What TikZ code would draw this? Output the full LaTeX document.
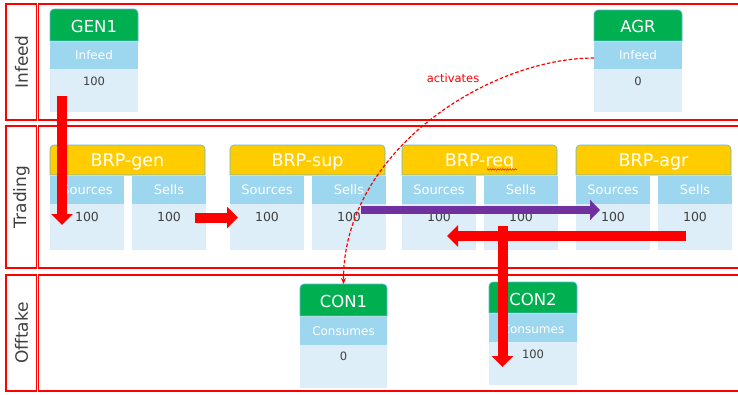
\documentclass[tikz,border=0pt]{standalone}
\usepackage{fontspec}
\setmainfont{DejaVu Sans}
\usetikzlibrary{arrows.meta,decorations.pathmorphing}
\definecolor{lanered}{HTML}{FF0000}
\definecolor{hdrgreen}{HTML}{00B050}
\definecolor{hdryellow}{HTML}{FFCC00}
\definecolor{bandblue}{HTML}{9DD6EF}
\definecolor{bodyblue}{HTML}{DDEEF8}
\definecolor{hdrline}{HTML}{5FB8D8}
\definecolor{txtgray}{HTML}{404040}
\definecolor{arrpurple}{HTML}{7030A0}
\newcommand\hdrbox[5]{\filldraw[fill=#5,draw=hdrline,line width=0.6pt] (#1,#4) [rounded corners=4pt] -- (#1,#2) -- (#3,#2) [sharp corners] -- (#3,#4) -- cycle;}
\tikzset{
  lanebox/.style={draw=lanered,line width=1.8pt},
  lanelabel/.style={rotate=90,text=txtgray,font=\fontsize{17}{19}\selectfont},
  hdrtext/.style={text=white,font=\fontsize{16.5}{18}\selectfont},
  trhdrtext/.style={text=white,font=\fontsize{17.5}{19}\selectfont},
  band/.style={fill=bandblue},
  body/.style={fill=bodyblue},
  bandtext/.style={text=white,font=\fontsize{12}{14}\selectfont},
  trbandtext/.style={text=white,font=\fontsize{13}{15}\selectfont},
  valtext/.style={text=txtgray,font=\fontsize{11.5}{13}\selectfont},
  trvaltext/.style={text=txtgray,font=\fontsize{12.5}{14}\selectfont},
  redarrow/.style={draw=lanered,line width=10pt,-{Triangle[width=21pt,length=11pt]}},
  purplearrow/.style={draw=arrpurple,line width=8pt,-{Triangle[width=20pt,length=10pt]}},
  activ/.style={draw=lanered,dash pattern=on 3.5pt off 2pt,line width=1.2pt,-{Stealth[length=6pt,width=5pt]}},
}
\begin{document}
\begin{tikzpicture}[x=1pt,y=-1pt]
\useasboundingbox (0,0) rectangle (738,394);
% lanes
\draw[lanebox] (6,4) rectangle (36.5,120);
\draw[lanebox] (38.5,4) rectangle (745,120);
\draw[lanebox] (6,126) rectangle (36.5,268);
\draw[lanebox] (38.5,126) rectangle (745,268);
\draw[lanebox] (6,275) rectangle (36.5,391);
\draw[lanebox] (38.5,275) rectangle (745,391);
\node[lanelabel] (lInfeed) at (21.5,62) {Infeed};
\node[lanelabel] (lTrading) at (21.5,197) {Trading};
\node[lanelabel] (lOfftake) at (21.5,333) {Offtake};
% GEN1
\hdrbox{50}{9}{138}{41}{hdrgreen}
\node[hdrtext] (gen1) at (94,26) {GEN1};
\fill[band] (50,42) rectangle (138,69);
\node[bandtext] (gen1b) at (94,55.5) {Infeed};
\fill[body] (50,69) rectangle (138,112);
\node[valtext] (gen1v) at (94,81) {100};
% AGR
\hdrbox{594}{10}{682}{41}{hdrgreen}
\node[hdrtext] (agr) at (638,26.5) {AGR};
\fill[band] (594,42) rectangle (682,69);
\node[bandtext] (agrb) at (638,55.5) {Infeed};
\fill[body] (594,69) rectangle (682,112);
\node[valtext] (agrv) at (638,81) {0};
% Trading cards
\foreach \x/\nm/\lab in {50/gen/BRP-gen,230/sup/BRP-sup,402/req/BRP-req,576/agr/BRP-agr}{
  \hdrbox{\x}{145}{\x+155}{175}{hdryellow}
  \node[trhdrtext] (brp\nm) at (\x+77.5,161.5) {\lab};
  \fill[band] (\x,176) rectangle (\x+74,204);
  \fill[body] (\x,204) rectangle (\x+74,250);
  \fill[band] (\x+82,176) rectangle (\x+156,204);
  \fill[body] (\x+82,204) rectangle (\x+156,250);
  \node[trbandtext] (src\nm) at (\x+37,189.5) {Sources};
  \node[trbandtext] (sel\nm) at (\x+119,189.5) {Sells};
  \node[trvaltext] (srcv\nm) at (\x+37,217) {100};
  \node[trvaltext] (selv\nm) at (\x+119,217) {100};
}
\draw[lanered,line width=0.5pt,decorate,decoration={snake,amplitude=0.8pt,segment length=2.5pt}] (487,169.5) -- (517,169.5);
% CON1
\hdrbox{300}{284}{387}{316}{hdrgreen}
\node[hdrtext] (con1) at (343.5,301.5) {CON1};
\fill[band] (300,317) rectangle (387,345);
\node[bandtext] (con1b) at (343.5,331.5) {Consumes};
\fill[body] (300,345) rectangle (387,388);
\node[valtext] (con1v) at (343.5,356) {0};
% CON2
\hdrbox{489}{282}{577}{313}{hdrgreen}
\node[hdrtext] (con2) at (533,299) {CON2};
\fill[band] (489,314) rectangle (577,342);
\node[bandtext] (con2b) at (533,329) {Consumes};
\fill[body] (489,342) rectangle (577,385);
\node[valtext] (con2v) at (533,354) {100};
% activates curve
\coordinate (actS) at (594,58);
\coordinate (actE) at (343.5,284);
\draw[activ] (actS) .. controls (490,58) and (343,150) .. (actE);
\node[text=lanered,font=\fontsize{11.5}{13}\selectfont] (actlab) at (453,78) {activates};
% block arrows
\coordinate (a1s) at (62,96);
\coordinate (a1e) at (62,225);
\draw[redarrow] (a1s) -- (a1e);
\coordinate (a2s) at (195,217.5);
\coordinate (a2e) at (238,217.5);
\draw[redarrow] (a2s) -- (a2e);
\coordinate (a3s) at (361,210);
\coordinate (a3e) at (600,210);
\draw[purplearrow] (a3s) -- (a3e);
\coordinate (a5s) at (502.5,226);
\coordinate (a5e) at (502.5,367);
\draw[redarrow] (a5s) -- (a5e);
\coordinate (a4s) at (686,236);
\coordinate (a4e) at (447,236);
\draw[redarrow] (a4s) -- (a4e);
\end{tikzpicture}
\end{document}
